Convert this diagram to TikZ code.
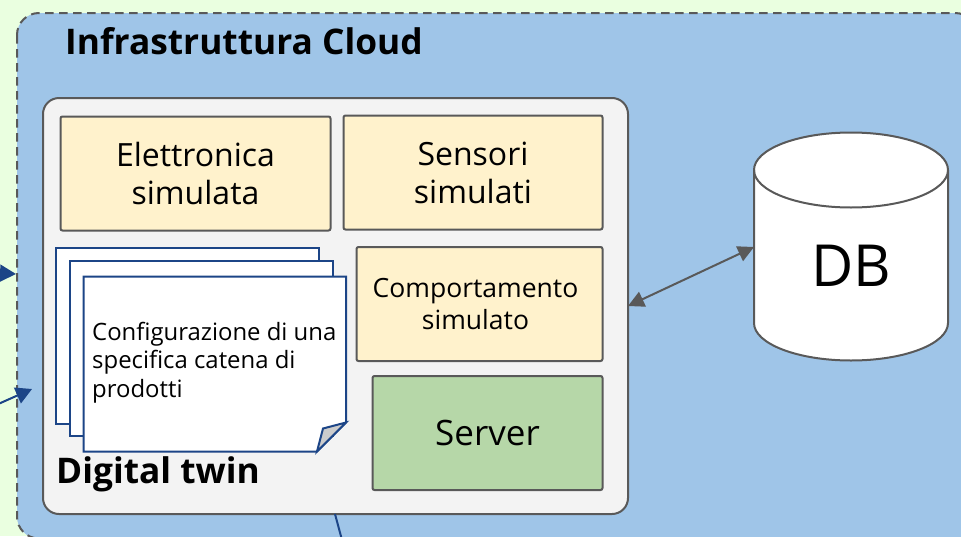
\documentclass[tikz,border=0pt]{standalone}
\usepackage{fontspec}
\setmainfont{Open Sans}
\usetikzlibrary{arrows.meta}
\definecolor{bggreen}{HTML}{EAFFE0}
\definecolor{cloudblue}{HTML}{9FC5E8}
\definecolor{twingrey}{HTML}{F3F3F3}
\definecolor{boxyellow}{HTML}{FFF2CC}
\definecolor{boxgreen}{HTML}{B6D7A8}
\definecolor{edgegrey}{HTML}{595959}
\definecolor{pageblue}{HTML}{1C4587}
\definecolor{foldgrey}{HTML}{CCCCCC}
\tikzset{
  x=1pt,y=-1pt,
  panel/.style={draw=edgegrey,line width=2pt,rounded corners=2pt},
  page/.style={draw=pageblue,line width=2pt,fill=white},
  lbl/.style={align=center,inner sep=0pt,text=black},
  bigtxt/.style={lbl,font=\fontsize{32}{38}\selectfont},
  midtxt/.style={lbl,font=\fontsize{26.5}{32}\selectfont},
  servertxt/.style={lbl,font=\fontsize{35}{42}\selectfont},
  headtxt/.style={lbl,font=\bfseries\fontsize{35.3}{42}\selectfont},
  inflow/.style={draw=pageblue,line width=2pt,-{Triangle[length=16pt,width=17pt]}},
  dbarrow/.style={draw=edgegrey,line width=2pt,{Triangle[length=16pt,width=16pt]}-{Triangle[length=16pt,width=16pt]}}
}
\begin{document}
\begin{tikzpicture}
\useasboundingbox (0,0) rectangle (961,536);
\clip (0,0) rectangle (961,536);
\fill[bggreen] (0,0) rectangle (961,536);
\draw[fill=cloudblue,draw=edgegrey,line width=2pt,dash pattern=on 8.5pt off 5.5pt,rounded corners=22pt] (17,13) rectangle (977,538.5);
\node[headtxt,anchor=base west] (cloudtitle) at (65,54) {Infrastruttura Cloud};
\draw[panel,fill=twingrey,rounded corners=16pt] (43,98) rectangle (628,514);
\coordinate (twinedge) at (628,306);
\coordinate (twinbottom) at (335,514);
\coordinate (belowout) at (342,540);
\draw[pageblue,line width=2pt] (twinbottom) -- (belowout);
\node[panel,fill=boxyellow,minimum width=270pt,minimum height=114pt,inner sep=0pt,anchor=north west,bigtxt] (elec) at (59.5,115.5) {Elettronica\\simulata};
\node[panel,fill=boxyellow,minimum width=259pt,minimum height=114pt,inner sep=0pt,anchor=north west,bigtxt] (sens) at (342.5,114.5) {Sensori\\simulati};
\node[panel,fill=boxyellow,minimum width=246pt,minimum height=114pt,inner sep=0pt,anchor=north west,midtxt] (comp) at (355.5,246) {Comportamento\kern8pt\\simulato\kern8pt};
\node[panel,fill=boxgreen,minimum width=230pt,minimum height=114pt,inner sep=0pt,anchor=north west,servertxt] (server) at (371.5,375) {Server};
\draw[page] (56,248) rectangle (319,424);
\draw[page] (70,261) rectangle (333,436);
\draw[page] (83.5,276.5) -- (346,276.5) -- (346,422.5) -- (317,451.5) -- (83.5,451.5) -- cycle;
\draw[draw=pageblue,line width=2pt,fill=foldgrey] (346,422.5) -- (323,428.5) -- (317,451.5) -- cycle;
\node[anchor=north west,align=left,inner sep=0pt,font=\fontsize{23.9}{28.5}\selectfont] (conf) at (92,322) {Configurazione di una\\specifica catena di\\prodotti};
\node[headtxt,anchor=base west] (twintitle) at (56,483) {Digital twin};
% DB
\draw[draw=edgegrey,line width=2pt,fill=white] (754,170) arc[start angle=180,end angle=0,x radius=97,y radius=-37.5] -- (948,323) arc[start angle=0,end angle=-180,x radius=97,y radius=-37.5] -- cycle;
\draw[draw=edgegrey,line width=2pt] (754,170) arc[start angle=180,end angle=360,x radius=97,y radius=-37.5];
\node[lbl,font=\fontsize{58}{64}\selectfont] (db) at (851,266) {DB};
\coordinate (dbedge) at (754,247);
\draw[dbarrow] (twinedge) -- (dbedge);
\coordinate (leftA) at (-4,273);
\coordinate (tipA) at (16,274);
\coordinate (leftB) at (-4,405);
\coordinate (tipB) at (32,389);
\draw[inflow] (leftA) -- (tipA);
\draw[inflow] (leftB) -- (tipB);
\end{tikzpicture}
\end{document}
